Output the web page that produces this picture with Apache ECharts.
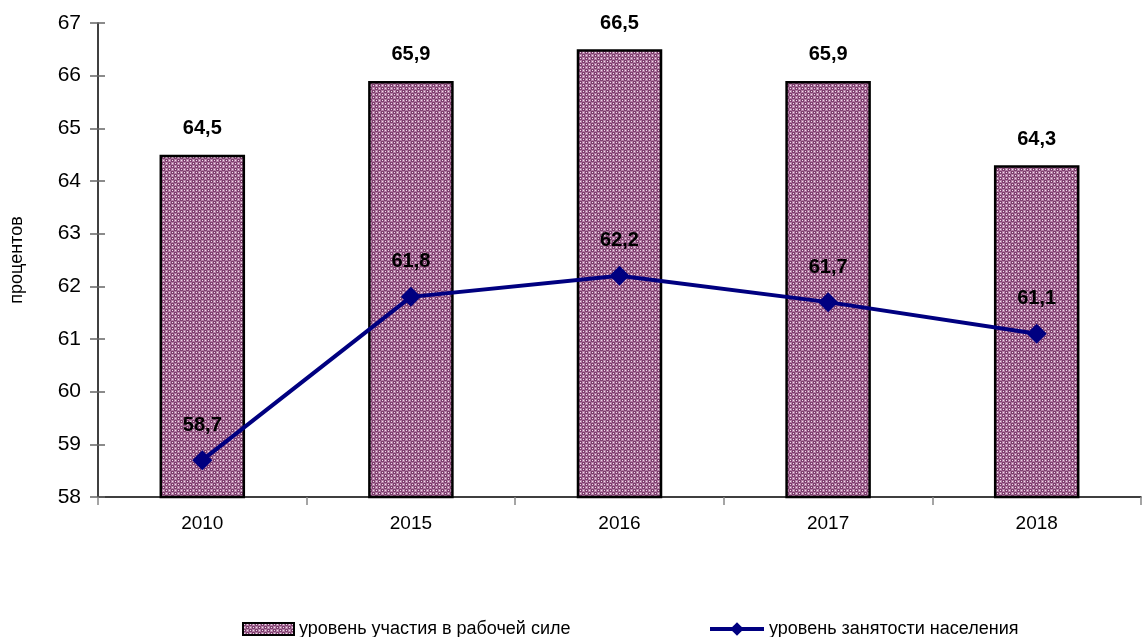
<!DOCTYPE html>
<html><head><meta charset="utf-8">
<script src="https://cdn.jsdelivr.net/npm/echarts@6/dist/echarts.min.js"></script>
<style>html,body{margin:0;padding:0;background:#fff}#c{width:1143px;height:637px}</style>
</head><body><div id="c"></div>
<script>
const categories = ['2010','2015','2016','2017','2018'];
const participation = [64.5, 65.9, 66.5, 65.9, 64.3];
const employment = [58.7, 61.8, 62.2, 61.7, 61.1];
const yTicks = [58, 59, 60, 61, 62, 63, 64, 65, 66, 67];
const seriesNames = ['уровень участия в рабочей силе', 'уровень занятости населения'];

function makePattern() {
  const c = document.createElement('canvas');
  c.width = 6; c.height = 6;
  const g = c.getContext('2d');
  g.fillStyle = '#b47fa6'; g.fillRect(0,0,6,6);
  g.fillStyle = '#7e3f6e';
  g.fillRect(0,0,3,3); g.fillRect(3,3,3,3);
  g.fillStyle = '#f0dcea';
  g.fillRect(1,1,1,1); g.fillRect(4,4,1,1);
  g.fillRect(4,1,1,1); g.fillRect(1,4,1,1);
  return c;
}
const pattern = makePattern();
const fmt = p => String(p.value).replace('.', ',');
const FONT = '"Liberation Sans", Arial, sans-serif';

const chart = echarts.init(document.getElementById('c'));
chart.setOption({
  animation: false,
  textStyle: {fontFamily: FONT},
  grid: {left: 92, right: 2, top: 23, bottom: 140},
  legend: [
    {data: [{name: seriesNames[0], icon: 'rect'}], left: 237, top: 615, itemWidth: 51, itemHeight: 12, itemGap: 8,
     textStyle: {fontSize: 18, color: '#000', fontFamily: FONT}},
    {data: [seriesNames[1]], left: 703, top: 615, itemWidth: 54, itemHeight: 17,
     lineStyle: {width: 4, color: '#000080'},
     textStyle: {fontSize: 18, color: '#000', fontFamily: FONT}}
  ],
  xAxis: {
    type: 'category', data: categories,
    axisLine: {lineStyle: {color: '#000', width: 1.5}},
    axisTick: {show: true, length: 8, lineStyle: {color: '#888', width: 1.5}},
    axisLabel: {fontSize: 19, color: '#000', margin: 17, fontFamily: FONT}
  },
  yAxis: [{
    type: 'value', min: 58, max: 67, interval: 1,
    name: 'процентов', nameLocation: 'middle', nameGap: 72, nameRotate: 90,
    nameTextStyle: {fontSize: 18, color: '#000', fontFamily: FONT},
    axisLine: {show: true, lineStyle: {color: '#000', width: 1.5}},
    axisTick: {show: true, length: 8, lineStyle: {color: '#666', width: 1.5}},
    axisLabel: {fontSize: 21, color: '#000', margin: 17, fontFamily: FONT,
                formatter: v => yTicks.includes(v) ? String(v) : ''},
    splitLine: {show: false}
  }, {
    type: 'value', min: 58, max: 67, interval: 1, position: 'left',
    axisLine: {show: false},
    axisTick: {show: true, inside: true, length: 7, lineStyle: {color: '#666', width: 1.5}},
    axisLabel: {show: false}, splitLine: {show: false}
  }],
  series: [{
    name: seriesNames[0], type: 'bar', data: participation, barWidth: '41%',
    itemStyle: {color: {image: pattern, repeat: 'repeat'}, borderColor: '#000', borderWidth: 2.5},
    label: {show: true, position: 'top', distance: 16, formatter: fmt, fontFamily: FONT,
            fontSize: 20, fontWeight: 'bold', color: '#000'}
  }, {
    name: seriesNames[1], type: 'line', data: employment,
    symbol: 'diamond', symbolSize: 20,
    lineStyle: {color: '#000080', width: 4},
    itemStyle: {color: '#000080'},
    label: {show: true, position: 'top', distance: 15, formatter: fmt, fontFamily: FONT,
            fontSize: 20, fontWeight: 'bold', color: '#000'}
  }]
});
</script></body></html>
